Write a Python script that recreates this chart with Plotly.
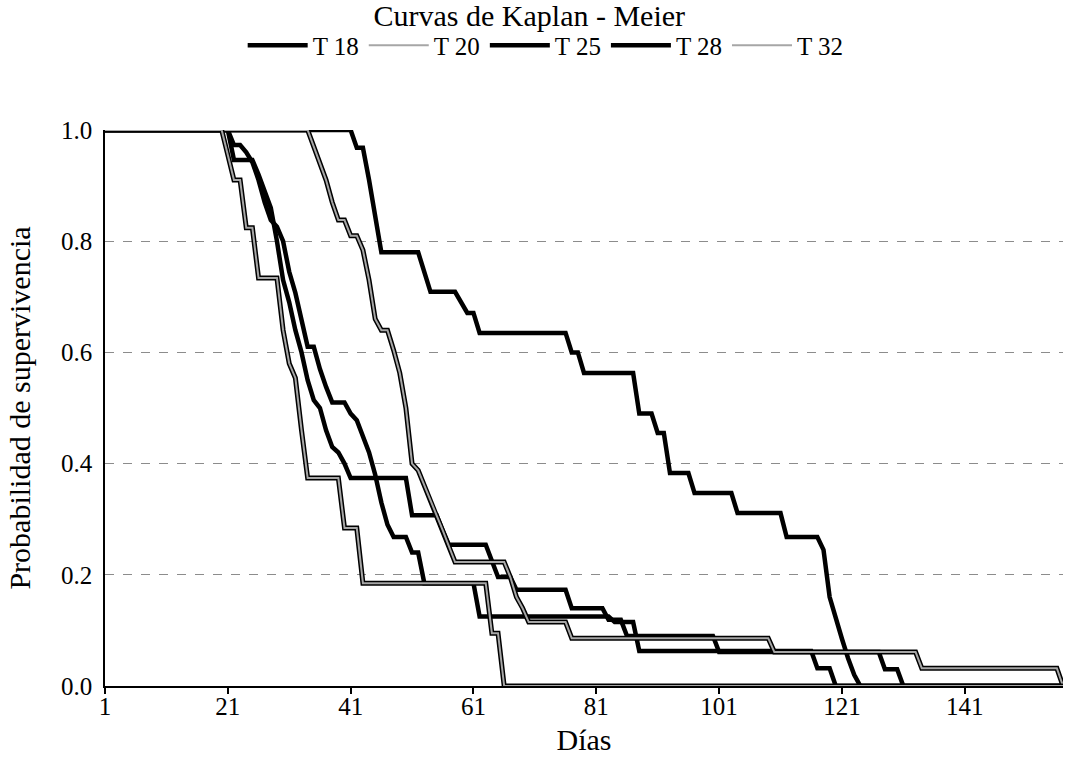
import plotly.graph_objects as go

# Kaplan-Meier survival curves: vertices of each curve (day, survival probability)
t18_days = [1, 41, 42, 43, 44, 45, 46, 52, 53, 54, 58, 59, 60, 61, 62, 76, 77, 78, 79, 87, 88, 90, 91, 92,
            93, 96, 97, 103, 104, 111, 112, 117, 118, 119, 120, 121, 122, 123, 124, 157]
t18_surv = [1.0, 1.0, 0.968, 0.968, 0.91, 0.85, 0.78, 0.78, 0.745, 0.709, 0.709, 0.69, 0.671, 0.671, 0.635,
            0.635, 0.60, 0.60, 0.563, 0.563, 0.49, 0.49, 0.455, 0.455, 0.383, 0.383, 0.347, 0.347, 0.311,
            0.311, 0.268, 0.268, 0.245, 0.16, 0.12, 0.085, 0.05, 0.02, 0.0, 0.0]

t20_days = [1, 34, 35, 36, 37, 38, 39, 40, 41, 42, 43, 44, 45, 46, 47, 48, 49, 50, 51, 52, 53, 54, 55, 56,
            57, 58, 66, 67, 68, 69, 70, 76, 77, 109, 110, 133, 134, 156, 157]
t20_surv = [1.0, 1.0, 0.97, 0.94, 0.91, 0.87, 0.838, 0.838, 0.81, 0.81, 0.784, 0.73, 0.66, 0.64, 0.64,
            0.604, 0.563, 0.50, 0.40, 0.388, 0.36, 0.335, 0.307, 0.28, 0.25, 0.223, 0.223, 0.196, 0.16,
            0.14, 0.115, 0.115, 0.086, 0.086, 0.061, 0.061, 0.032, 0.032, 0.0]

t25_days = [1, 21, 22, 23, 24, 25, 26, 27, 28, 29, 30, 31, 32, 33, 34, 35, 36, 37, 38, 40, 41, 42, 43, 44,
            45, 46, 47, 48, 50, 51, 52, 53, 61, 62, 83, 84, 87, 88, 116, 117, 119, 120, 157]
t25_surv = [1.0, 1.0, 0.973, 0.973, 0.96, 0.942, 0.91, 0.87, 0.838, 0.826, 0.80, 0.745, 0.707, 0.658,
            0.61, 0.61, 0.57, 0.538, 0.51, 0.51, 0.49, 0.478, 0.45, 0.42, 0.38, 0.33, 0.29, 0.268, 0.268,
            0.24, 0.24, 0.185, 0.185, 0.125, 0.125, 0.115, 0.115, 0.063, 0.063, 0.032, 0.032, 0.0, 0.0]

t28_days = [1, 21, 22, 25, 26, 27, 28, 29, 30, 31, 32, 33, 34, 35, 36, 37, 38, 39, 40, 41, 50, 51, 55, 56,
            57, 63, 64, 65, 67, 68, 76, 77, 82, 83, 85, 86, 100, 101, 127, 128, 130, 131, 157]
t28_surv = [1.0, 1.0, 0.946, 0.946, 0.92, 0.89, 0.86, 0.80, 0.73, 0.69, 0.64, 0.60, 0.55, 0.514, 0.50,
            0.46, 0.43, 0.42, 0.40, 0.374, 0.374, 0.307, 0.307, 0.28, 0.254, 0.254, 0.227, 0.196, 0.196,
            0.173, 0.173, 0.14, 0.14, 0.119, 0.119, 0.09, 0.09, 0.061, 0.061, 0.03, 0.03, 0.0, 0.0]

t32_days = [1, 20, 21, 22, 23, 24, 25, 26, 29, 30, 31, 32, 33, 34, 39, 40, 42, 43, 63, 64, 65, 66, 157]
t32_surv = [1.0, 1.0, 0.955, 0.91, 0.91, 0.824, 0.824, 0.734, 0.734, 0.64, 0.58, 0.554, 0.46, 0.374,
            0.374, 0.284, 0.284, 0.185, 0.185, 0.095, 0.095, 0.0, 0.0]

x_ticks = [1, 21, 41, 61, 81, 101, 121, 141]
y_ticks = [0.0, 0.2, 0.4, 0.6, 0.8, 1.0]

SERIF = "Liberation Serif, Times New Roman, serif"

fig = go.Figure()

# solid black curves
for name, xs, ys in [("T 18", t18_days, t18_surv),
                     ("T 25", t25_days, t25_surv),
                     ("T 28", t28_days, t28_surv)]:
    fig.add_trace(go.Scatter(x=xs, y=ys, mode="lines", name=name, legendgroup=name,
                             line=dict(color="black", width=4.5), hoverinfo="skip"))

# grey curves drawn with a dark outline
for name, xs, ys in [("T 20", t20_days, t20_surv),
                     ("T 32", t32_days, t32_surv)]:
    fig.add_trace(go.Scatter(x=xs, y=ys, mode="lines", legendgroup=name, showlegend=False,
                             line=dict(color="black", width=5), hoverinfo="skip"))
    fig.add_trace(go.Scatter(x=xs, y=ys, mode="lines", name=name, legendgroup=name,
                             line=dict(color="#a6a6a6", width=2), hoverinfo="skip"))

# legend order T 18, T 20, T 25, T 28, T 32
rank = {"T 18": 1, "T 20": 2, "T 25": 3, "T 28": 4, "T 32": 5}
for tr in fig.data:
    tr.legendrank = rank[tr.legendgroup]

fig.update_layout(
    width=1065, height=771,
    margin=dict(l=105, r=2, t=130, b=85),
    paper_bgcolor="white", plot_bgcolor="white",
    font=dict(family=SERIF, color="black", size=25),
    title=dict(text="Curvas de Kaplan - Meier", x=0.497, xref="container", xanchor="center",
               y=0.98, yref="container", yanchor="middle", font=dict(size=30, family=SERIF)),
    legend=dict(orientation="h", x=0.46, xanchor="center", y=1.152, yanchor="middle",
                font=dict(size=25, family=SERIF), itemwidth=60, tracegroupgap=0,
                bgcolor="rgba(0,0,0,0)"),
    showlegend=True,
)

fig.update_xaxes(range=[1, 157], tickvals=x_ticks, ticktext=[str(v) for v in x_ticks],
                 showline=True, linecolor="black", linewidth=1.5, ticks="outside", ticklen=6,
                 tickcolor="black", tickwidth=1.5, showgrid=False, zeroline=False,
                 ticklabelstandoff=-9,
                 tickfont=dict(size=25, family=SERIF),
                 title=dict(text="Días", font=dict(size=30, family=SERIF), standoff=10))

fig.update_yaxes(range=[0, 1.0], tickvals=y_ticks, ticktext=[f"{v:.1f}" for v in y_ticks],
                 showline=True, linecolor="black", linewidth=1.5, ticks="", showgrid=True,
                 gridcolor="#8c8c8c", gridwidth=1, griddash="dash", zeroline=False,
                 ticklabelstandoff=6,
                 tickfont=dict(size=25, family=SERIF),
                 title=dict(text="Probabilidad de supervivencia", font=dict(size=30, family=SERIF),
                            standoff=22))

fig.write_html("out.html")
